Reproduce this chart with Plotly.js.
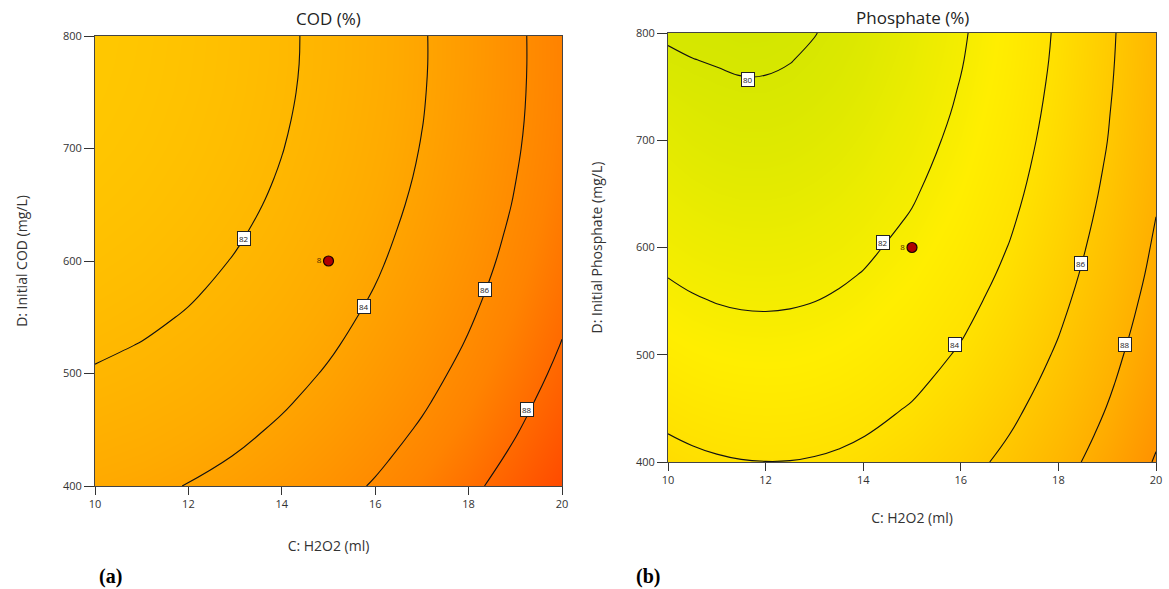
<!DOCTYPE html>
<html>
<head>
<meta charset="utf-8">
<script src="https://cdn.plot.ly/plotly-3.0.1.min.js"></script>
<style>
  html, body { margin: 0; padding: 0; background: #ffffff; }
  #chart { width: 1169px; height: 589px; }
</style>
</head>
<body>
<div id="chart"></div>
<script>
// ---- data ----
const codH2o2 = [10, 11, 12, 13, 14, 15, 16, 17, 18, 19, 20];                        // C: H2O2 (ml)
const phosH2o2 = [10, 10.5, 11, 11.5, 12, 12.5, 13, 13.5, 14, 15, 16, 17, 18, 19, 20]; // C: H2O2 (ml)
const initialConc = [400, 425, 450, 475, 500, 525, 550, 575, 600,
                     625, 650, 675, 700, 725, 750, 775, 800];                         // D (mg/L)

// COD removal (%) — rows follow initialConc, columns follow codH2o2
const codRemoval = [
  [83.53, 83.74, 84.04, 84.43, 84.91, 85.47, 86.12, 86.86, 87.69, 88.60, 89.59],
  [83.13, 83.35, 83.66, 84.05, 84.53, 85.10, 85.75, 86.50, 87.32, 88.24, 89.24],
  [82.76, 82.99, 83.30, 83.69, 84.18, 84.75, 85.41, 86.15, 86.98, 87.90, 88.91],
  [82.42, 82.65, 82.96, 83.36, 83.85, 84.42, 85.08, 85.83, 86.67, 87.59, 88.60],
  [82.10, 82.33, 82.65, 83.05, 83.54, 84.12, 84.79, 85.54, 86.38, 87.30, 88.31],
  [81.80, 82.04, 82.36, 82.77, 83.26, 83.84, 84.51, 85.27, 86.11, 87.04, 88.05],
  [81.53, 81.77, 82.09, 82.51, 83.00, 83.59, 84.26, 85.02, 85.87, 86.80, 87.82],
  [81.28, 81.52, 81.85, 82.27, 82.77, 83.36, 84.03, 84.80, 85.65, 86.58, 87.61],
  [81.06, 81.30, 81.64, 82.06, 82.56, 83.15, 83.83, 84.60, 85.45, 86.39, 87.42],
  [80.86, 81.11, 81.44, 81.87, 82.37, 82.97, 83.66, 84.43, 85.28, 86.23, 87.26],
  [80.68, 80.93, 81.27, 81.70, 82.21, 82.82, 83.50, 84.28, 85.14, 86.08, 87.12],
  [80.53, 80.79, 81.13, 81.56, 82.08, 82.68, 83.37, 84.15, 85.02, 85.97, 87.00],
  [80.40, 80.66, 81.01, 81.44, 81.97, 82.57, 83.27, 84.05, 84.92, 85.87, 86.91],
  [80.30, 80.56, 80.92, 81.35, 81.88, 82.49, 83.19, 83.97, 84.85, 85.80, 86.85],
  [80.22, 80.49, 80.84, 81.28, 81.81, 82.43, 83.13, 83.92, 84.80, 85.76, 86.81],
  [80.17, 80.44, 80.80, 81.24, 81.77, 82.39, 83.10, 83.89, 84.77, 85.74, 86.79],
  [80.14, 80.41, 80.77, 81.22, 81.76, 82.38, 83.09, 83.89, 84.77, 85.74, 86.80]
];

// Phosphate removal (%) — rows follow initialConc, columns follow phosH2o2
const phosphateRemoval = [
  [84.43, 84.25, 84.12, 84.04, 84.01, 84.02, 84.08, 84.19, 84.35, 84.82, 85.49, 86.35, 87.41, 88.67, 90.12],
  [84.02, 83.84, 83.71, 83.63, 83.60, 83.62, 83.69, 83.80, 83.97, 84.45, 85.13, 86.01, 87.07, 88.34, 89.81],
  [83.64, 83.46, 83.33, 83.25, 83.22, 83.24, 83.31, 83.43, 83.60, 84.09, 84.78, 85.67, 86.75, 88.04, 89.52],
  [83.26, 83.09, 82.96, 82.89, 82.86, 82.88, 82.96, 83.08, 83.26, 83.75, 84.45, 85.35, 86.45, 87.75, 89.26],
  [82.91, 82.74, 82.61, 82.54, 82.51, 82.54, 82.62, 82.75, 82.93, 83.43, 84.14, 85.06, 86.17, 87.49, 89.01],
  [82.58, 82.40, 82.28, 82.21, 82.19, 82.22, 82.30, 82.43, 82.61, 83.13, 83.85, 84.78, 85.91, 87.24, 88.77],
  [82.26, 82.09, 81.97, 81.90, 81.88, 81.91, 81.99, 82.13, 82.32, 82.85, 83.58, 84.52, 85.66, 87.01, 88.56],
  [81.96, 81.79, 81.67, 81.60, 81.59, 81.62, 81.71, 81.85, 82.04, 82.58, 83.32, 84.27, 85.43, 86.79, 88.36],
  [81.68, 81.51, 81.39, 81.33, 81.32, 81.36, 81.45, 81.59, 81.79, 82.33, 83.09, 84.05, 85.22, 86.60, 88.19],
  [81.42, 81.25, 81.13, 81.07, 81.06, 81.10, 81.20, 81.35, 81.55, 82.10, 82.87, 83.84, 85.03, 86.42, 88.02],
  [81.17, 81.01, 80.89, 80.83, 80.83, 80.87, 80.97, 81.12, 81.33, 81.89, 82.67, 83.65, 84.85, 86.26, 87.88],
  [80.95, 80.78, 80.67, 80.61, 80.61, 80.66, 80.76, 80.91, 81.12, 81.70, 82.48, 83.48, 84.70, 86.12, 87.76],
  [80.74, 80.58, 80.47, 80.41, 80.41, 80.46, 80.57, 80.72, 80.94, 81.52, 82.32, 83.33, 84.56, 85.99, 87.65],
  [80.55, 80.39, 80.28, 80.23, 80.23, 80.28, 80.39, 80.55, 80.77, 81.36, 82.17, 83.20, 84.44, 85.90, 87.57],
  [80.30, 80.18, 80.11, 80.06, 80.06, 80.12, 80.23, 80.40, 80.62, 81.22, 82.05, 83.08, 84.34, 85.81, 87.50],
  [80.08, 80.01, 79.96, 79.91, 79.92, 79.98, 80.10, 80.27, 80.49, 81.10, 81.93, 82.98, 84.25, 85.74, 87.45],
  [79.93, 79.86, 79.83, 79.78, 79.79, 79.86, 79.98, 80.15, 80.38, 81.00, 81.84, 82.91, 84.19, 85.69, 87.41]
];

// contour-label positions (in data units) and their levels
const codLabelLevel = ['82', '84', '86', '88'];
const codLabelC     = [13.2, 15.75, 18.35, 19.25];
const codLabelD     = [620, 560, 575, 468];
const phosLabelLevel = ['80', '82', '84', '86', '88'];
const phosLabelC     = [11.63, 14.41, 15.88, 18.47, 19.37];
const phosLabelD     = [757, 605, 510, 585, 510];

// design (centre) point
const designC = [15];
const designD = [600];
const designRuns = ['8'];

const xTicks = [10, 12, 14, 16, 18, 20];
const yTicks = [400, 500, 600, 700, 800];

// ---- traces ----
const codScale = [
  [0.00, '#FFC900'],
  [0.36, '#FFAA00'],
  [0.70, '#FF8300'],
  [1.00, '#FF4A00']
];
const phosScale = [
  [0.00, '#D2E600'],
  [0.15, '#ECEC00'],
  [0.28, '#FFEE00'],
  [0.42, '#FFE000'],
  [0.60, '#FFC800'],
  [0.80, '#FFAE00'],
  [1.00, '#FF9000']
];

function contourTrace(xs, z, xa, ya, scale, zmin, zmax) {
  return {
    type: 'contour',
    x: xs, y: initialConc, z: z,
    xaxis: xa, yaxis: ya,
    colorscale: scale, zmin: zmin, zmax: zmax,
    showscale: false,
    autocontour: false,
    contours: { start: 80, end: 90, size: 2, coloring: 'heatmap', showlines: true },
    line: { color: '#111111', width: 1.1, smoothing: 1.3 },
    hoverinfo: 'skip'
  };
}

function pointTrace(xa, ya) {
  return {
    type: 'scatter', mode: 'markers+text',
    x: designC, y: designD, text: designRuns,
    textposition: 'middle left',
    textfont: { family: 'Open Sans, sans-serif', size: 8, color: '#4a2a00' },
    marker: { size: 10, color: '#B00000', line: { color: '#1a0000', width: 1.2 } },
    xaxis: xa, yaxis: ya, hoverinfo: 'skip'
  };
}

const data = [
  contourTrace(codH2o2, codRemoval, 'x', 'y', codScale, 80, 89.6),
  contourTrace(phosH2o2, phosphateRemoval, 'x2', 'y2', phosScale, 79.7, 90.2),
  pointTrace('x', 'y'),
  pointTrace('x2', 'y2')
];

// ---- layout ----
const tickFont = { family: 'Open Sans, Noto Sans, sans-serif', size: 11, color: '#333333' };
const axTitleFont = { family: 'Open Sans, Noto Sans, sans-serif', size: 14, color: '#333333' };

function xAxis(domain, anchor, standoff) {
  return {
    domain: domain, anchor: anchor, range: [10, 20],
    tickvals: xTicks, ticks: 'outside', ticklen: 8, tickcolor: '#333',
    tickfont: tickFont, showgrid: false, zeroline: false,
    showline: true, mirror: true, linecolor: '#444', linewidth: 1,
    automargin: false,
    title: { text: 'C: H2O2 (ml)', font: axTitleFont, standoff: standoff }
  };
}
function yAxis(domain, anchor, text, standoff) {
  return {
    domain: domain, anchor: anchor, range: [400, 800],
    tickvals: yTicks, ticks: 'outside', ticklen: 10, tickcolor: '#333',
    tickfont: tickFont, showgrid: false, zeroline: false,
    showline: true, mirror: true, linecolor: '#444', linewidth: 1,
    automargin: false,
    title: { text: text, font: axTitleFont, standoff: standoff }
  };
}

const annotations = [];
function addLabels(levels, cs, ds, xref, yref) {
  for (let i = 0; i < levels.length; i++) {
    annotations.push({
      x: cs[i], y: ds[i], xref: xref, yref: yref, text: levels[i],
      showarrow: false, bgcolor: '#ffffff', bordercolor: '#222222', borderwidth: 1,
      borderpad: 1, font: { family: 'Open Sans, sans-serif', size: 8, color: '#222' }
    });
  }
}
addLabels(codLabelLevel, codLabelC, codLabelD, 'x', 'y');
addLabels(phosLabelLevel, phosLabelC, phosLabelD, 'x2', 'y2');

annotations.push(
  { text: 'COD (%)', xref: 'paper', yref: 'paper', x: 0.2806, y: 1 - 19 / 589,
    xanchor: 'center', yanchor: 'middle',
    showarrow: false, font: { family: 'Open Sans, sans-serif', size: 17, color: '#222' } },
  { text: 'Phosphate (%)', xref: 'paper', yref: 'paper', x: 912 / 1169, y: 1 - 18 / 589,
    xanchor: 'center', yanchor: 'middle',
    showarrow: false, font: { family: 'Open Sans, sans-serif', size: 17, color: '#222' } },
  { text: '<b>(a)</b>', xref: 'paper', yref: 'paper', x: 110 / 1169, y: 1 - 576 / 589,
    xanchor: 'center', yanchor: 'middle',
    showarrow: false, font: { family: 'Liberation Serif, Times New Roman, serif', size: 20, color: '#000' } },
  { text: '<b>(b)</b>', xref: 'paper', yref: 'paper', x: 648 / 1169, y: 1 - 576 / 589,
    xanchor: 'center', yanchor: 'middle',
    showarrow: false, font: { family: 'Liberation Serif, Times New Roman, serif', size: 20, color: '#000' } }
);

const layout = {
  width: 1169, height: 589,
  margin: { l: 0, r: 0, t: 0, b: 0 },
  paper_bgcolor: '#ffffff', plot_bgcolor: '#ffffff',
  showlegend: false,
  xaxis: xAxis([95 / 1169, 562 / 1169], 'y', 30),
  yaxis: yAxis([1 - 486 / 589, 1 - 36 / 589], 'x', 'D: Initial COD (mg/L)', 32),
  xaxis2: xAxis([668 / 1169, 1156 / 1169], 'y2', 26),
  yaxis2: yAxis([1 - 462 / 589, 1 - 33 / 589], 'x2', 'D: Initial Phosphate (mg/L)', 30),
  annotations: annotations
};

Plotly.newPlot('chart', data, layout, { displayModeBar: false, staticPlot: true });
</script>
</body>
</html>
